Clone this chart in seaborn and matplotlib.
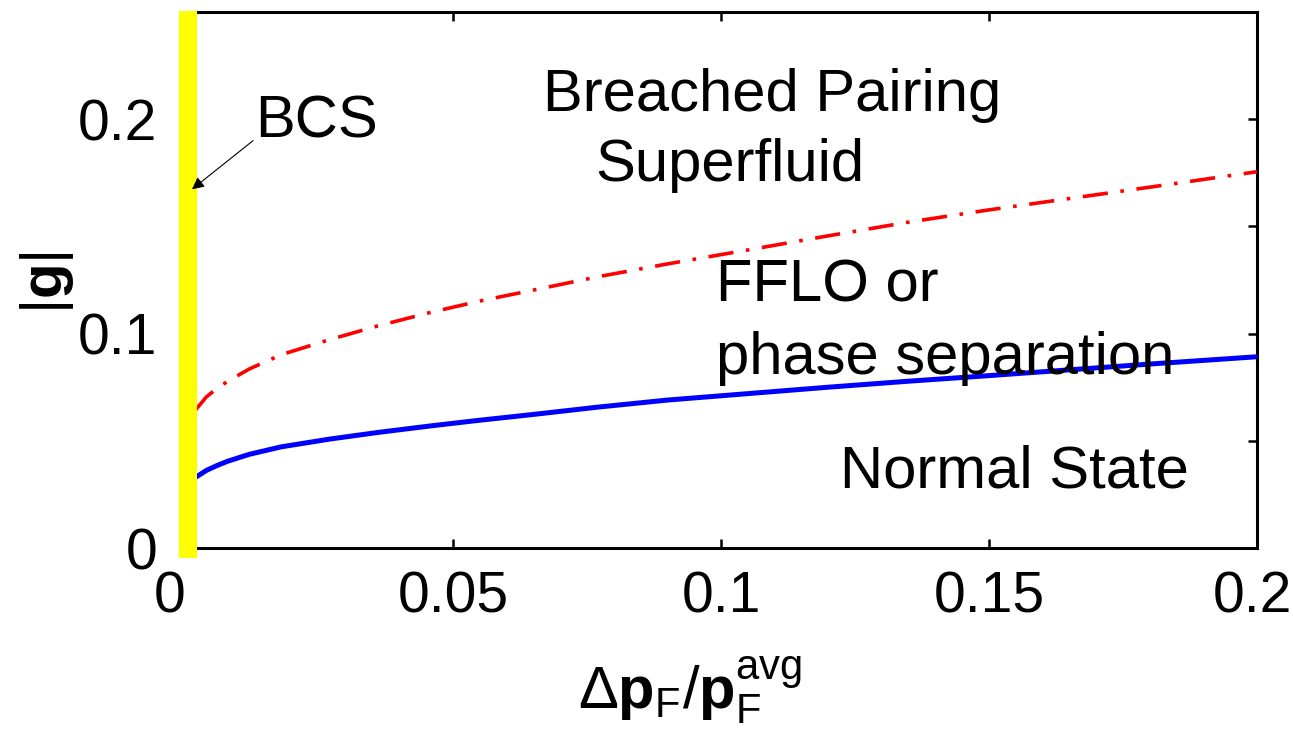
import matplotlib
matplotlib.use("Agg")
import matplotlib.pyplot as plt
import matplotlib.transforms as mtransforms
import seaborn as sns
import numpy as np

# ---- data ----
x_vals = [0.002, 0.004, 0.006, 0.008, 0.012, 0.018, 0.027, 0.036, 0.046, 0.055, 0.065,
          0.077, 0.090, 0.105, 0.120, 0.135, 0.150, 0.165, 0.180, 0.200]
normal_boundary = [0.0330, 0.0362, 0.0385, 0.0405, 0.0437, 0.0472, 0.0508, 0.0539, 0.0570, 0.0596, 0.0623,
                   0.0657, 0.0690, 0.0720, 0.0750, 0.0778, 0.0804, 0.0831, 0.0858, 0.0892]
breached_boundary = [0.0645, 0.0705, 0.0745, 0.0778, 0.0835, 0.0902, 0.0972, 0.1036, 0.1100, 0.1152, 0.1203,
                     0.1265, 0.1325, 0.1390, 0.1456, 0.1520, 0.1577, 0.1630, 0.1683, 0.1755]
x_ticks = [0, 0.05, 0.1, 0.15, 0.2]
x_ticklabels = ["0", "0.05", "0.1", "0.15", "0.2"]
y_ticks = [0, 0.05, 0.1, 0.15, 0.2, 0.25]
y_ticklabels = ["0", "", "0.1", "", "0.2", ""]

sns.set_style("ticks")
plt.rcParams['font.family'] = ['Liberation Sans', 'DejaVu Sans']
plt.rcParams['text.color'] = 'black'
plt.rcParams['axes.labelcolor'] = 'black'
plt.rcParams['xtick.color'] = 'black'
plt.rcParams['ytick.color'] = 'black'
plt.rcParams['mathtext.fontset'] = 'custom'
plt.rcParams['mathtext.rm'] = 'Liberation Sans'
plt.rcParams['mathtext.bf'] = 'Liberation Sans:bold'
plt.rcParams['mathtext.it'] = 'Liberation Sans:italic'

fig = plt.figure(figsize=(12.93, 7.46), dpi=100)
ax = fig.add_axes([185/1293, 1-548/746, (1257-185)/1293, (548-12)/746])

sns.lineplot(x=x_vals, y=breached_boundary, ax=ax, color='#ff0000', lw=2.6,
             dashes=False, zorder=3)
ax.lines[-1].set_dashes((7, 3.5, 1, 3.5))
sns.lineplot(x=x_vals, y=normal_boundary, ax=ax, color='#0000ff', lw=3.6, zorder=3)

# BCS line at zero imbalance
ax.plot([0.0006, 0.0006], [-0.0047, 0.2505], color='#ffff00', lw=13,
        solid_capstyle='butt', clip_on=False, zorder=5)

ax.set_xlim(0, 0.2)
ax.set_ylim(0, 0.25)
ax.set_xticks(x_ticks)
ax.set_xticklabels(x_ticklabels)
ax.set_yticks(y_ticks)
ax.set_yticklabels(y_ticklabels)
ax.tick_params(direction='in', length=6.5, width=1.8, labelsize=41,
               top=True, right=True, colors='black', labelcolor='black')
ax.tick_params(axis='x', pad=16)
ax.tick_params(axis='y', pad=20)
xtl = ax.get_xticklabels()
xtl[0].set_ha('right')
xtl[-1].set_transform(xtl[-1].get_transform() +
                      mtransforms.ScaledTranslation(-5/100, 0, fig.dpi_scale_trans))
for s in ax.spines.values():
    s.set_linewidth(2.2)
    s.set_color('black')
    s.set_visible(True)

ax.set_xlabel(r'$\Delta\mathbf{p}_{\mathrm{F}}/\mathbf{p}_{\mathrm{F}}^{\mathrm{avg}}$',
              fontsize=43, va='baseline')
ax.xaxis.set_label_coords(0.471, -0.300)
ax.set_ylabel(r'$|\mathbf{g}|$', fontsize=42, va='center')
ax.yaxis.set_label_coords(-0.129, 0.496)

fs = 43
ax.text(0.0668, 0.2037, 'Breached Pairing', fontsize=fs, va='baseline')
ax.text(0.0765, 0.1710, 'Superfluid', fontsize=fs, va='baseline')
ax.text(0.0990, 0.1150, 'FFLO or', fontsize=fs, va='baseline')
ax.text(0.0990, 0.0813, 'phase separation', fontsize=fs, va='baseline')
ax.text(0.1222, 0.0280, 'Normal State', fontsize=fs, va='baseline')
ax.text(0.0131, 0.1916, 'BCS', fontsize=fs, va='baseline')
ax.annotate('', xy=(0.0013, 0.1673), xytext=(0.0127, 0.1900),
            arrowprops=dict(arrowstyle='-|>', color='black', lw=0.8,
                            mutation_scale=18, shrinkA=0, shrinkB=0),
            zorder=6, annotation_clip=False)

fig.savefig('out.png', dpi=100)
